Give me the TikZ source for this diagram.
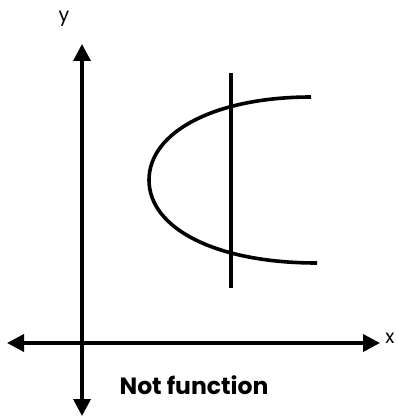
\documentclass[tikz,border=0pt]{standalone}
\usepackage{fontspec}
\setmainfont{Poppins}
\usetikzlibrary{arrows.meta}
\begin{document}
\begin{tikzpicture}[x=1pt,y=-1pt,
  axis/.style={line width=3.6pt,{Triangle[length=17pt,width=17pt]}-{Triangle[length=17pt,width=17pt]}},
  curve/.style={line width=3.6pt},
  lbl/.style={inner sep=0pt,font=\fontsize{19}{19}\selectfont}]
\useasboundingbox (0,0) rectangle (397,417);
% axes
\coordinate (ytop) at (82,44);
\coordinate (ybot) at (82,416);
\coordinate (xleft) at (7,343);
\coordinate (xright) at (380,343);
\draw[axis] (ybot) -- (ytop);
\draw[axis] (xleft) -- (xright);
\node[lbl] (ylab) at (64,19) {y};
\node[lbl] (xlab) at (390,338) {x};
% vertical line test
\coordinate (vtop) at (231,73);
\coordinate (vbot) at (231,288);
\draw[curve] (vtop) -- (vbot);
% sideways parabola
\coordinate (ptop) at (311,97);
\coordinate (pvert) at (149,180);
\coordinate (pbot) at (317,263);
\draw[curve] (ptop) .. controls (215,97) and (149,132) .. (pvert)
  .. controls (149,228) and (215,263) .. (pbot);
\node[inner sep=0pt,font=\bfseries\fontsize{23.5}{23.5}\selectfont] (title) at (194,385) {Not function};
\end{tikzpicture}
\end{document}
